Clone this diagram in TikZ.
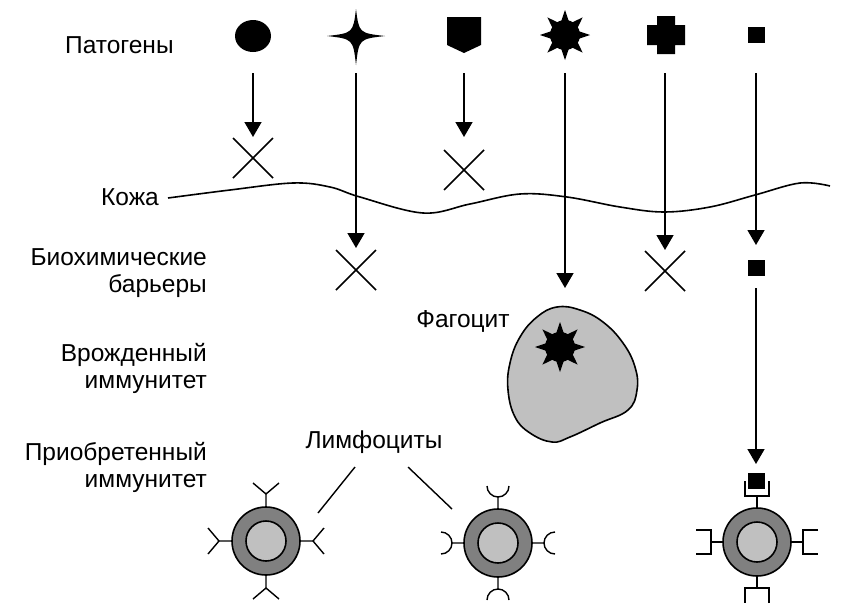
\documentclass[tikz,border=0pt]{standalone}
\usepackage{fontspec}
\setmainfont{Liberation Sans}
\usetikzlibrary{arrows.meta}
\definecolor{ringgray}{HTML}{808080}
\definecolor{coregray}{HTML}{C0C0C0}
\begin{document}
\begin{tikzpicture}[x=1pt,y=-1pt,
  lbl/.style={inner sep=0pt, font=\fontsize{24.5}{28}\selectfont},
  path arrow/.style={line width=1.5pt, -{Triangle[width=17pt,length=15pt]}},
  blockmark/.style={line width=1.5pt},
  outline/.style={line width=1.6pt},
  thinline/.style={line width=1.4pt},
  % barrier that stops a pathogen
  blocked/.pic={\draw[blockmark] (-20,-20) -- (20,20) (-20,20) -- (20,-20);},
  % pathogen shapes
  roundgerm/.pic={\fill (0,0) ellipse [x radius=18pt, y radius=16pt];},
  stargerm/.pic={\fill (0,-27) .. controls (3,-3) .. (29,0) .. controls (3,3) .. (0,29)
      .. controls (-3,3) .. (-29,0) .. controls (-3,-3) .. (0,-27) -- cycle;},
  shieldgerm/.pic={\fill (-17,-18) -- (17,-18) -- (17,10) -- (0,18) -- (-17,10) -- cycle;},
  sunburst/.pic={\fill (0,0) circle (15pt);
      \foreach \a in {0,45,...,315}
        \fill ({\a-15}:14.5pt) -- (\a:25pt) -- ({\a+15}:14.5pt) -- cycle;},
  crossgerm/.pic={\fill (-9,-19) -- (9,-19) -- (9,-10) -- (19,-10) -- (19,10) -- (9,10)
      -- (9,19) -- (-9,19) -- (-9,10) -- (-19,10) -- (-19,-10) -- (-9,-10) -- cycle;},
  squaregerm/.pic={\fill (-8.5,-8) rectangle (8.5,8);},
  % lymphocyte body and its receptors
  cellbody/.pic={\draw[outline, fill=ringgray] (0,0) circle (34pt);
      \draw[outline, fill=coregray] (0,0) circle (20pt);},
  yreceptors/.pic={\foreach \a in {0,90,180,270}
      \draw[thinline, rotate=\a] (34,0) -- (47,0) (58,-13) -- (47,0) -- (58,13);},
  cupreceptors/.pic={\foreach \a in {0,90,180,270}
      \draw[thinline, rotate=\a] (34,0) -- (46,0)
        (57,-11) arc[start angle=90, end angle=270, radius=11pt];},
  bracketreceptors/.pic={\foreach \a in {0,90,180,270}
      \draw[thinline, rotate=\a] (34,0) -- (46,0) (61,-12) -- (46,-12) -- (46,12) -- (61,12);},
]
\useasboundingbox (0,0) rectangle (851,603);

% row labels
\node[lbl, anchor=base west] (pathogens) at (65,53) {Патогены};
\node[lbl, anchor=base east] (skin) at (159,205) {Кожа};
\node[lbl, anchor=base east] (bio1) at (207,265) {Биохимические};
\node[lbl, anchor=base east] (bio2) at (207,292) {барьеры};
\node[lbl, anchor=base east] (inn1) at (207,361) {Врожденный};
\node[lbl, anchor=base east] (inn2) at (207,388) {иммунитет};
\node[lbl, anchor=base east] (acq1) at (207,460) {Приобретенный};
\node[lbl, anchor=base east] (acq2) at (207,487) {иммунитет};
\node[lbl, anchor=base] (phago) at (463,327) {Фагоцит};
\node[lbl, anchor=base] (lympho) at (374,448) {Лимфоциты};

% skin line
\draw[line width=1.6pt] plot[smooth, tension=0.6] coordinates {
  (168,198) (230,190) (293,183) (330,187) (360,197) (423,213) (470,204)
  (520,194) (567,197) (620,207) (664,212) (710,207) (755,195) (800,183) (830,186)};

% pathogens
\coordinate (g1) at (253,36);
\coordinate (g2) at (356,36);
\coordinate (g3) at (464,35);
\coordinate (g4) at (565,35);
\coordinate (g5) at (666,35);
\coordinate (g6) at (756,35);
\pic at (g1) {roundgerm};
\pic at (g2) {stargerm};
\pic at (g3) {shieldgerm};
\pic at (g4) {sunburst};
\pic at (g5) {crossgerm};
\pic at (g6) {squaregerm};

% paths of the pathogens
\coordinate (a1s) at (253,73);  \coordinate (a1e) at (253,137);
\coordinate (a2s) at (356,73);  \coordinate (a2e) at (356,248);
\coordinate (a3s) at (464,73);  \coordinate (a3e) at (464,137);
\coordinate (a4s) at (565,73);  \coordinate (a4e) at (565,288);
\coordinate (a5s) at (665,73);  \coordinate (a5e) at (665,250);
\coordinate (a6s) at (756,73);  \coordinate (a6e) at (756,245);
\coordinate (b6s) at (756,288); \coordinate (b6e) at (756,464);
\foreach \n in {a1,a2,a3,a4,a5,a6,b6}
  \draw[path arrow] (\n s) -- (\n e);

% barriers
\coordinate (x1) at (253,158);
\coordinate (x2) at (356,270);
\coordinate (x3) at (464,170);
\coordinate (x5) at (665,271);
\foreach \n in {x1,x2,x3,x5} \pic at (\n) {blocked};
\coordinate (s6) at (756,268);
\pic at (s6) {squaregerm};

% phagocyte with engulfed pathogen
\draw[line width=1.6pt, fill=coregray] plot[smooth cycle, tension=0.7] coordinates {
  (557,307) (580,310) (603,322) (623,343) (635,367) (637,390) (628,410) (600,423)
  (570,437) (552,442) (530,433) (515,417) (508,390) (510,363) (520,337) (537,317)};
\coordinate (eaten) at (560,347);
\pic at (eaten) {sunburst};

% lymphocytes
\coordinate (c1) at (266,541);
\coordinate (c2) at (498,543);
\coordinate (c3) at (757,542);
\pic at (c1) {yreceptors};
\pic at (c1) {cellbody};
\pic at (c2) {cupreceptors};
\pic at (c2) {cellbody};
\pic at (c3) {bracketreceptors};
\pic at (c3) {cellbody};
\coordinate (bound) at (756,481);
\pic at (bound) {squaregerm};

% pointers from the lymphocyte label
\coordinate (l1s) at (355,467); \coordinate (l1e) at (318,513);
\coordinate (l2s) at (408,467); \coordinate (l2e) at (452,509);
\draw[thinline] (l1s) -- (l1e);
\draw[thinline] (l2s) -- (l2e);
\end{tikzpicture}
\end{document}
